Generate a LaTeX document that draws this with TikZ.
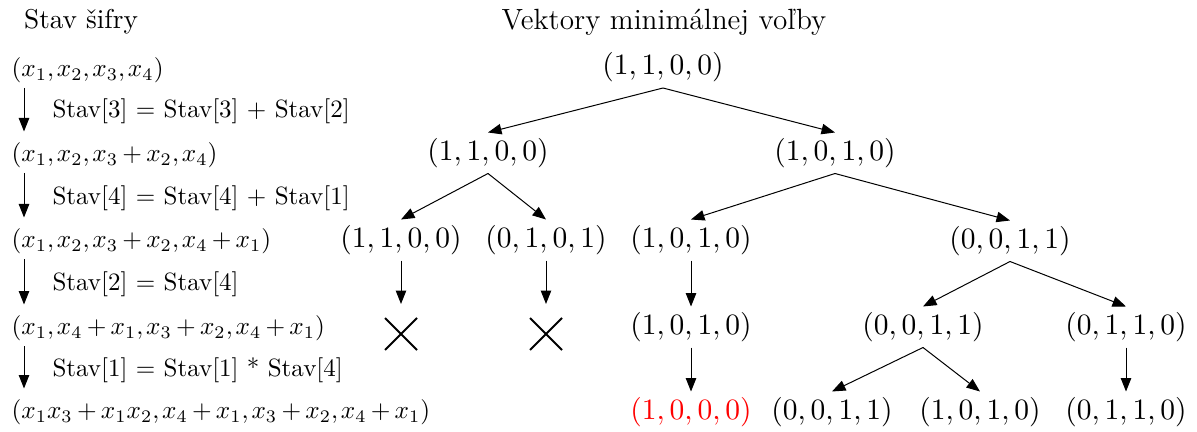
\RequirePackage{fix-cm}
\documentclass[tikz,border=0pt]{standalone}
\usetikzlibrary{arrows.meta,shapes.misc}
\newcommand\ltm[1]{$\thinmuskip=2mu\relax\medmuskip=3mu\relax #1$}
\begin{document}
\begin{tikzpicture}[x=0.4pt,y=-0.4pt,
  tup/.style={font=\fontsize{11.8}{13}\selectfont, inner sep=0pt, minimum height=16pt},
  ltup/.style={font=\fontsize{10.1}{12}\selectfont, inner sep=0pt, minimum height=14pt, anchor=west},
  lbl/.style={font=\fontsize{10}{12}\selectfont, inner sep=0pt, anchor=west},
  head/.style={inner sep=0pt},
  edge/.style={-{Triangle[length=5.4pt,width=4.2pt]}, line width=0.4pt},
  ledge/.style={edge, shorten >=2.2pt},
  xmark/.style={cross out, draw, line width=0.8pt, minimum size=12pt, inner sep=0pt}
]
\path[use as bounding box] (0,0) rectangle (1197,432);
% headings
\node[head, font=\fontsize{10.9}{13}\selectfont] (h1) at (81,22) {Stav šifry};
\node[head, font=\fontsize{11.7}{13}\selectfont] (h2) at (664,22) {Vektory minimálnej voľby};
% left column
\node[ltup] (L1) at (11,70) {\ltm{(x_1, x_2, x_3, x_4)}};
\node[ltup] (L2) at (11,155) {\ltm{(x_1, x_2, x_3 + x_2, x_4)}};
\node[ltup] (L3) at (11,241) {\ltm{(x_1, x_2, x_3 + x_2, x_4 + x_1)}};
\node[ltup] (L4) at (11,328) {\ltm{(x_1, x_4 + x_1, x_3 + x_2, x_4 + x_1)}};
\node[ltup] (L5) at (11,412) {\ltm{(x_1x_3 + x_1x_2, x_4 + x_1, x_3 + x_2, x_4 + x_1)}};
\node[lbl] (S1) at (52,111) {Stav[3] = Stav[3] + Stav[2]};
\node[lbl] (S2) at (52,198) {Stav[4] = Stav[4] + Stav[1]};
\node[lbl] (S3) at (52,284) {Stav[2] = Stav[4]};
\node[lbl] (S4) at (52,370) {Stav[1] = Stav[1] * Stav[4]};
\draw[ledge] ([xshift=5.2pt]L1.south west) -- ([xshift=5.2pt]L2.north west);
\draw[ledge] ([xshift=5.2pt]L2.south west) -- ([xshift=5.2pt]L3.north west);
\draw[ledge] ([xshift=5.2pt]L3.south west) -- ([xshift=5.2pt]L4.north west);
\draw[ledge] ([xshift=5.2pt]L4.south west) -- ([xshift=5.2pt]L5.north west);
% tree
\node[tup] (R)  at (663,67.5) {$(1,1,0,0)$};
\node[tup] (A)  at (488,153) {$(1,1,0,0)$};
\node[tup] (B)  at (835,153) {$(1,0,1,0)$};
\node[tup] (C1) at (401,240) {$(1,1,0,0)$};
\node[tup] (C2) at (546,240) {$(0,1,0,1)$};
\node[tup] (C3) at (691,240) {$(1,0,1,0)$};
\node[tup] (C4) at (1010,241) {$(0,0,1,1)$};
\node[xmark] (X1) at (401,334) {};
\node[xmark] (X2) at (546,334) {};
\node[tup] (D3) at (691,327) {$(1,0,1,0)$};
\node[tup] (D4) at (923,327) {$(0,0,1,1)$};
\node[tup] (D5) at (1126,327) {$(0,1,1,0)$};
\node[tup,text=red] (E3) at (691,412) {$(1,0,0,0)$};
\node[tup] (E4) at (832,412) {$(0,0,1,1)$};
\node[tup] (E5) at (980,412) {$(1,0,1,0)$};
\node[tup] (E6) at (1126,412) {$(0,1,1,0)$};
\draw[edge] (R.south) -- (A.north);
\draw[edge] (R.south) -- (B.north);
\draw[edge] (A.south) -- (C1.north);
\draw[edge] (A.south) -- (C2.north);
\draw[edge] (B.south) -- (C3.north);
\draw[edge] (B.south) -- (C4.north);
\draw[edge, shorten >=5.6pt] (C1.south) -- (X1.north);
\draw[edge, shorten >=5.6pt] (C2.south) -- (X2.north);
\draw[edge] (C3.south) -- (D3.north);
\draw[edge] (C4.south) -- (D4.north);
\draw[edge] (C4.south) -- (D5.north);
\draw[edge] (D3.south) -- (E3.north);
\draw[edge] (D4.south) -- (E4.north);
\draw[edge] (D4.south) -- (E5.north);
\draw[edge] (D5.south) -- (E6.north);
\end{tikzpicture}
\end{document}
